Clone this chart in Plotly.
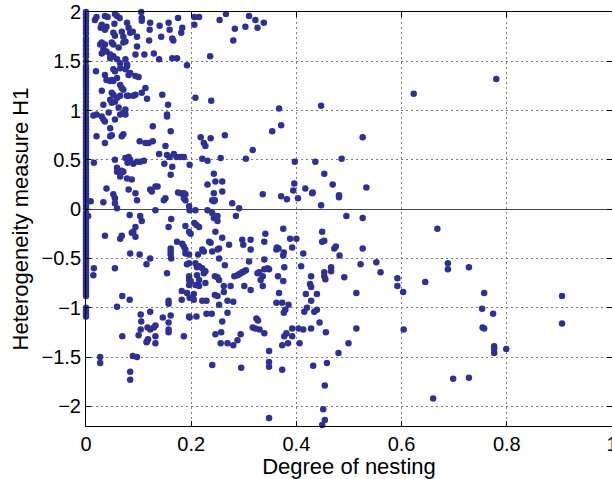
import plotly.graph_objects as go

# H1 values of networks whose degree of nesting is 0 (the dense column at x = 0)
zero_nesting_h1 = [
    2.0, 1.97, 1.94, 1.91, 1.88, 1.85, 1.82, 1.78, 1.73, 1.70, 1.66, 1.62, 1.58, 1.55, 1.50,
    1.45, 1.42, 1.39, 1.36, 1.33, 1.30, 1.27, 1.24, 1.21, 1.17, 1.13, 1.09, 1.05, 1.01, 0.97,
    0.93, 0.90, 0.87, 0.84, 0.81, 0.78, 0.75, 0.72, 0.69, 0.66, 0.63, 0.60, 0.57, 0.54, 0.51,
    0.47, 0.44, 0.40, 0.37, 0.34, 0.31, 0.28, 0.25, 0.22, 0.19, 0.16, 0.13, 0.10, 0.07, 0.04,
    0.01, -0.04, -0.07, -0.10, -0.13, -0.16, -0.19, -0.22, -0.25, -0.28, -0.31, -0.34, -0.37,
    -0.40, -0.43, -0.46, -0.49, -0.52, -0.55, -0.58, -0.61, -0.64, -0.67, -0.70, -0.73, -0.76,
    -0.79, -0.82, -0.85, -0.88, -1.00, -1.03, -1.06, -1.09,
]

# (degree of nesting, H1) pairs, grouped by region of the plot
upper_left = [
    (0.017, 1.92), (0.020, 1.95), (0.036, 1.96), (0.041, 1.95), (0.055, 1.98), (0.059, 1.96), (0.064, 1.94),
    (0.105, 2.00), (0.106, 1.94), (0.106, 1.91),
    (0.122, 1.89), (0.140, 1.86), (0.157, 1.89), (0.175, 1.94), (0.183, 1.84), (0.181, 1.79),
    (0.206, 1.95), (0.215, 1.95), (0.206, 1.87),
    (0.254, 1.92), (0.266, 1.98), (0.283, 1.83), (0.280, 1.71), (0.303, 1.85), (0.310, 1.96), (0.322, 1.92),
    (0.326, 1.84), (0.338, 1.89),
    (0.030, 1.87), (0.033, 1.84), (0.039, 1.85), (0.036, 1.82), (0.028, 1.84),
    (0.054, 1.88), (0.052, 1.79), (0.055, 1.76), (0.068, 1.80), (0.071, 1.75), (0.078, 1.89), (0.081, 1.84),
    (0.089, 1.80), (0.097, 1.75), (0.084, 1.79), (0.075, 1.70), (0.071, 1.69), (0.097, 1.65), (0.094, 1.57),
    (0.111, 1.57), (0.121, 1.82), (0.120, 1.71), (0.129, 1.58), (0.139, 1.52), (0.143, 1.75), (0.159, 1.82),
    (0.166, 1.71), (0.164, 1.73), (0.164, 1.53), (0.173, 1.53), (0.192, 1.46), (0.236, 1.55),
    (0.027, 1.67), (0.030, 1.69), (0.036, 1.67), (0.049, 1.69), (0.033, 1.62), (0.030, 1.58), (0.039, 1.60),
    (0.046, 1.57), (0.052, 1.55), (0.046, 1.53), (0.059, 1.52), (0.065, 1.48), (0.062, 1.64), (0.052, 1.67),
    (0.075, 1.52), (0.078, 1.47), (0.075, 1.42), (0.081, 1.36), (0.094, 1.35), (0.100, 1.34), (0.113, 1.23),
    (0.106, 1.18), (0.094, 1.16), (0.116, 1.12), (0.078, 1.45), (0.065, 1.43),
    (0.019, 1.40), (0.036, 1.36), (0.039, 1.31), (0.052, 1.42), (0.055, 1.40), (0.059, 1.33), (0.049, 1.31),
    (0.052, 1.30), (0.046, 1.30), (0.065, 1.26), (0.071, 1.21), (0.068, 1.23), (0.030, 1.20), (0.049, 1.18),
    (0.052, 1.16), (0.065, 1.15), (0.059, 1.13), (0.055, 1.09), (0.046, 1.11), (0.049, 1.08), (0.033, 1.06),
    (0.062, 1.03), (0.075, 1.01), (0.078, 1.15), (0.081, 1.15), (0.090, 1.15), (0.084, 1.38), (0.145, 1.16),
    (0.156, 1.06), (0.154, 0.96), (0.154, 0.94), (0.208, 1.13), (0.238, 1.10),
    (0.014, 0.95), (0.020, 0.96), (0.030, 0.94), (0.033, 0.91), (0.036, 0.89), (0.046, 0.82), (0.043, 0.98),
    (0.065, 0.96), (0.055, 0.91), (0.071, 0.98), (0.075, 0.96),
    (0.127, 0.84), (0.161, 0.79), (0.020, 0.74), (0.046, 0.74), (0.049, 0.75), (0.068, 0.74), (0.071, 0.76),
    (0.036, 0.67), (0.102, 0.69), (0.113, 0.67), (0.119, 0.67), (0.127, 0.69), (0.151, 0.64), (0.218, 0.73),
    (0.237, 0.72), (0.264, 0.75), (0.224, 0.67), (0.227, 0.64), (0.317, 0.60),
]

upper_right = [
    (0.367, 1.02), (0.354, 0.79), (0.371, 0.85), (0.447, 1.05), (0.526, 0.73), (0.623, 1.17), (0.780, 1.32),
]

middle_left = [
    (0.009, 0.08), (0.004, -0.07),
    (0.015, 0.47),
    (0.055, 0.50), (0.059, 0.42), (0.059, 0.38), (0.068, 0.39), (0.071, 0.38), (0.065, 0.33),
    (0.075, 0.52), (0.081, 0.53), (0.084, 0.50), (0.079, 0.47), (0.090, 0.46), (0.097, 0.48), (0.103, 0.48),
    (0.110, 0.49), (0.078, 0.31), (0.087, 0.30),
    (0.039, 0.21), (0.081, 0.20), (0.094, 0.16), (0.097, 0.09),
    (0.122, 0.20), (0.125, 0.18), (0.132, 0.23), (0.136, 0.23),
    (0.139, 0.56), (0.154, 0.55), (0.159, 0.53), (0.167, 0.56), (0.172, 0.53), (0.180, 0.53), (0.186, 0.53),
    (0.149, 0.46), (0.164, 0.43), (0.161, 0.35), (0.148, 0.09), (0.151, 0.11),
    (0.175, 0.17), (0.180, 0.16), (0.186, 0.16), (0.189, 0.15), (0.186, 0.11), (0.189, 0.09),
    (0.197, 0.45), (0.221, 0.51), (0.231, 0.49), (0.256, 0.52), (0.304, 0.51),
    (0.243, 0.36), (0.246, 0.28), (0.231, 0.25), (0.259, 0.28), (0.259, 0.18),
    (0.243, 0.16), (0.243, 0.08), (0.240, 0.09), (0.245, 0.09),
    (0.278, 0.06), (0.291, 0.01), (0.285, -0.07), (0.336, 0.15), (0.341, -0.25),
    (0.033, 0.07), (0.052, 0.15), (0.055, 0.11), (0.055, 0.06), (0.059, 0.01), (0.132, -0.01),
    (0.196, 0.03), (0.197, -0.01), (0.208, -0.01),
    (0.083, -0.06), (0.103, -0.07), (0.106, -0.12), (0.094, -0.18), (0.090, -0.23), (0.094, -0.28),
    (0.087, -0.24), (0.036, -0.27), (0.068, -0.27), (0.065, -0.30),
    (0.162, -0.10), (0.157, -0.18), (0.189, -0.17), (0.196, -0.23), (0.199, -0.25), (0.210, -0.16),
    (0.206, -0.14), (0.215, -0.18),
    (0.231, -0.01), (0.240, -0.04), (0.243, -0.09), (0.250, -0.07), (0.250, -0.12), (0.246, -0.23),
    (0.234, -0.33), (0.237, -0.34), (0.240, -0.43), (0.250, -0.41), (0.253, -0.40), (0.259, -0.29),
    (0.272, -0.36),
    (0.173, -0.33), (0.183, -0.35), (0.186, -0.38), (0.189, -0.41), (0.189, -0.45), (0.196, -0.46),
    (0.161, -0.40), (0.161, -0.43), (0.161, -0.46), (0.162, -0.50),
    (0.213, -0.46), (0.221, -0.41), (0.224, -0.43),
    (0.297, -0.31), (0.299, -0.36), (0.313, -0.31), (0.313, -0.41), (0.339, -0.33), (0.348, -0.61),
    (0.084, -0.45), (0.102, -0.46), (0.122, -0.50), (0.115, -0.56), (0.154, -0.65), (0.055, -0.60),
    (0.015, -0.60), (0.014, -0.67),
    (0.192, -0.56), (0.196, -0.55), (0.208, -0.55), (0.211, -0.59), (0.215, -0.58), (0.221, -0.60),
    (0.224, -0.65), (0.227, -0.63), (0.211, -0.67), (0.215, -0.72),
    (0.196, -0.68), (0.196, -0.72), (0.199, -0.73), (0.196, -0.77), (0.208, -0.77), (0.215, -0.78),
    (0.227, -0.75),
    (0.245, -0.68), (0.250, -0.69), (0.253, -0.72), (0.262, -0.78), (0.275, -0.78), (0.264, -0.57),
    (0.253, -0.50),
    (0.282, -0.68), (0.288, -0.67), (0.291, -0.66), (0.294, -0.65), (0.297, -0.64), (0.301, -0.63),
    (0.304, -0.62), (0.310, -0.53), (0.326, -0.65), (0.329, -0.64), (0.336, -0.68), (0.332, -0.72),
    (0.339, -0.61), (0.345, -0.60), (0.336, -0.78), (0.313, -0.82), (0.301, -0.78),
]

middle_right = [
    (0.397, 0.48), (0.436, 0.48), (0.486, 0.51), (0.453, 0.36), (0.469, 0.25), (0.533, 0.22),
    (0.396, 0.26), (0.394, 0.19), (0.417, 0.21), (0.431, 0.17), (0.430, 0.16), (0.371, 0.13),
    (0.382, 0.10), (0.403, 0.11), (0.481, 0.14), (0.481, 0.12), (0.447, 0.04),
    (0.495, -0.07), (0.526, -0.09), (0.668, -0.20),
    (0.375, -0.20), (0.449, -0.23), (0.388, -0.30), (0.400, -0.30), (0.449, -0.33), (0.453, -0.32),
    (0.363, -0.39), (0.366, -0.40), (0.362, -0.41), (0.392, -0.39), (0.376, -0.44), (0.375, -0.47),
    (0.413, -0.45), (0.475, -0.38), (0.472, -0.40), (0.482, -0.47), (0.526, -0.40),
    (0.339, -0.51),
    (0.377, -0.59), (0.409, -0.58), (0.365, -0.68), (0.375, -0.73),
    (0.428, -0.68), (0.426, -0.76), (0.428, -0.79), (0.453, -0.64), (0.453, -0.68), (0.455, -0.71),
    (0.466, -0.59), (0.466, -0.63), (0.491, -0.69), (0.522, -0.56), (0.552, -0.54), (0.560, -0.64),
    (0.592, -0.70), (0.592, -0.78), (0.645, -0.74), (0.688, -0.55), (0.688, -0.61),
    (0.728, -0.59), (0.757, -0.85),
]

lower_left = [
    (0.069, -0.88), (0.083, -0.92), (0.059, -0.99), (0.069, -1.29), (0.104, -1.07), (0.105, -1.14),
    (0.104, -1.22), (0.122, -1.04), (0.117, -1.20), (0.122, -1.22), (0.129, -1.20), (0.132, -1.18),
    (0.116, -1.34), (0.118, -1.32), (0.115, -1.35), (0.132, -1.29), (0.132, -1.36), (0.100, -1.28),
    (0.146, -1.10), (0.157, -0.93), (0.157, -0.96), (0.161, -1.08), (0.157, -1.15), (0.157, -1.22),
    (0.157, -1.25),
    (0.182, -0.83), (0.182, -0.92), (0.192, -0.85), (0.197, -0.90), (0.196, -1.09), (0.197, -1.10),
    (0.205, -0.86), (0.205, -0.92), (0.210, -1.09), (0.186, -1.29),
    (0.221, -0.93), (0.229, -0.93), (0.229, -1.06), (0.239, -1.06), (0.240, -1.58), (0.246, -1.27),
    (0.257, -1.25), (0.259, -1.14), (0.256, -1.36), (0.269, -1.36), (0.280, -1.38), (0.288, -1.33),
    (0.294, -1.27), (0.295, -1.61), (0.269, -1.05), (0.253, -0.97), (0.250, -0.88), (0.245, -0.87),
    (0.262, -0.84), (0.269, -0.93), (0.280, -0.94), (0.324, -1.11), (0.327, -1.13), (0.317, -1.20),
    (0.322, -1.21), (0.330, -1.22), (0.339, -1.26), (0.348, -1.44), (0.348, -1.55), (0.348, -1.60),
    (0.348, -2.12),
    (0.027, -1.50), (0.027, -1.56), (0.084, -1.65), (0.084, -1.73), (0.089, -1.49), (0.097, -1.50),
]

lower_right = [
    (0.367, -0.85), (0.362, -0.95), (0.373, -0.95), (0.385, -0.97), (0.379, -1.02), (0.376, -1.05),
    (0.418, -0.86), (0.428, -0.93), (0.439, -0.86), (0.415, -1.04), (0.420, -1.00), (0.434, -1.04),
    (0.439, -1.02), (0.444, -1.15), (0.456, -1.25), (0.428, -1.21), (0.413, -1.22), (0.404, -1.21),
    (0.392, -1.21), (0.392, -1.29), (0.381, -1.26), (0.377, -1.29), (0.384, -1.36), (0.373, -1.38),
    (0.406, -1.36), (0.373, -1.63), (0.432, -1.59), (0.458, -1.56), (0.454, -1.79), (0.451, -2.03),
    (0.454, -2.14), (0.449, -2.19), (0.480, -1.46), (0.499, -1.36), (0.514, -0.85), (0.514, -1.21),
    (0.603, -0.84), (0.604, -1.22), (0.660, -1.92),
    (0.753, -1.01), (0.774, -1.06), (0.754, -1.20), (0.757, -1.21), (0.776, -1.39), (0.776, -1.46),
    (0.776, -1.42), (0.799, -1.42), (0.905, -0.88), (0.905, -1.16), (0.698, -1.72), (0.728, -1.71),
]

x_ticks = [0, 0.2, 0.4, 0.6, 0.8, 1]
x_tick_labels = ["0", "0.2", "0.4", "0.6", "0.8", "1"]
y_ticks = [-2, -1.5, -1, -0.5, 0, 0.5, 1, 1.5, 2]
y_tick_labels = ["\u22122", "\u22121.5", "\u22121", "\u22120.5", "0", "0.5", "1", "1.5", "2"]

pairs = upper_left + upper_right + middle_left + middle_right + lower_left + lower_right
nesting = [0.0] * len(zero_nesting_h1) + [p[0] for p in pairs]
h1 = list(zero_nesting_h1) + [p[1] for p in pairs]

FONT = "Liberation Sans, Arial, Helvetica, sans-serif"

fig = go.Figure()
fig.add_trace(go.Scatter(
    x=nesting, y=h1, mode="markers",
    marker=dict(size=6.5, color="#2e3192", line=dict(width=0)),
    cliponaxis=False, showlegend=False, hoverinfo="skip",
))

axis_common = dict(
    automargin=False,
    showline=True, linecolor="black", linewidth=1, mirror="ticks",
    ticks="inside", ticklen=5, tickwidth=1, tickcolor="black",
    showgrid=True, gridcolor="#7a7a7a", gridwidth=1, griddash="2px,3px",
    tickfont=dict(family=FONT, size=20, color="black"),
    ticklabeloverflow="allow",
)

fig.update_layout(
    width=612, height=479,
    margin=dict(l=86, r=0, t=12, b=53),
    paper_bgcolor="white", plot_bgcolor="white",
    font=dict(family=FONT, color="black"),
    xaxis=dict(
        range=[0, 1], tickvals=x_ticks, ticktext=x_tick_labels, zeroline=False,
        title=dict(text="Degree of nesting", font=dict(family=FONT, size=22, color="black"), standoff=6),
        **axis_common,
    ),
    yaxis=dict(
        range=[-2.2, 2], tickvals=y_ticks, ticktext=y_tick_labels,
        zeroline=True, zerolinecolor="#444444", zerolinewidth=1,
        title=dict(text="Heterogeneity measure H1", font=dict(family=FONT, size=22, color="black"), standoff=6),
        **axis_common,
    ),
)

# remove the browser's default 8px page margin so the figure sits at the window origin
fig.write_html(
    "out.html",
    config={"displayModeBar": False},
    post_script="document.body.style.margin='0';document.body.style.overflow='hidden';",
)
